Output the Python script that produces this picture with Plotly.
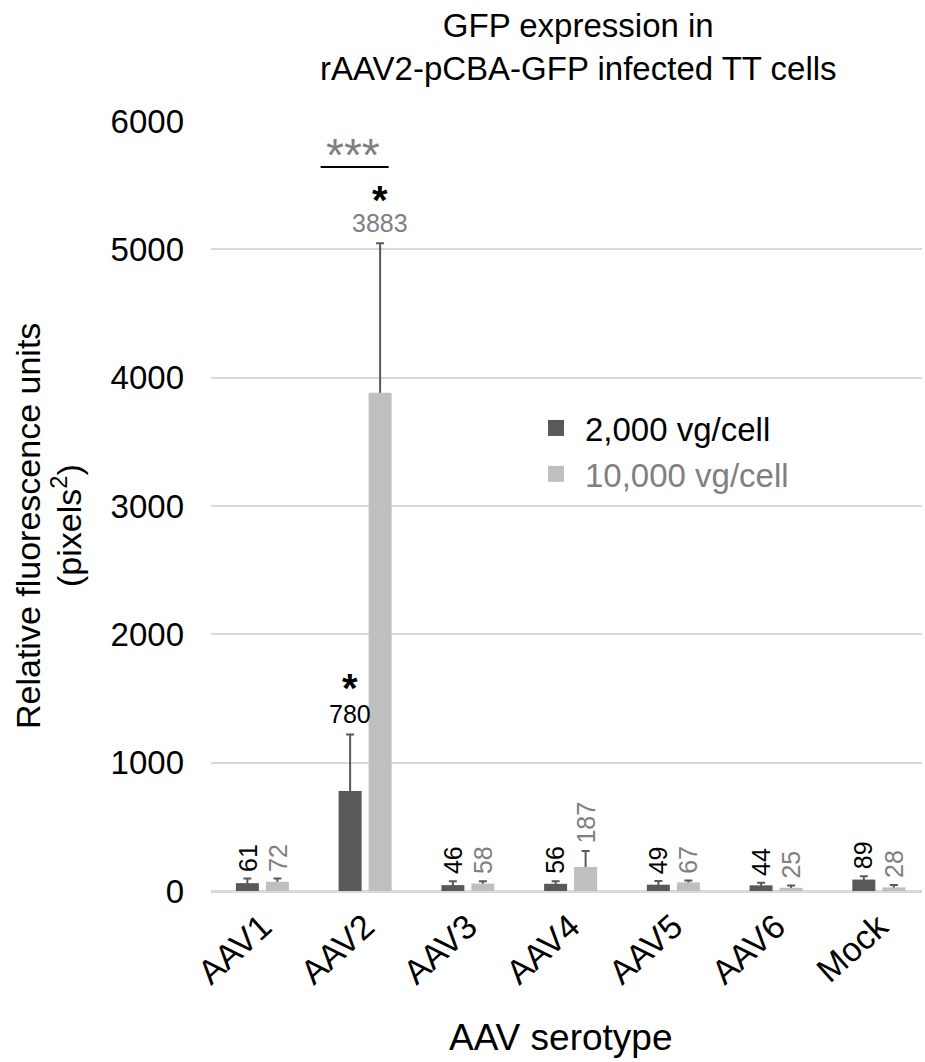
import plotly.graph_objects as go

# ---- data ----
categories = ["AAV1", "AAV2", "AAV3", "AAV4", "AAV5", "AAV6", "Mock"]
series_names = ["2,000 vg/cell", "10,000 vg/cell"]
low_dose = [61, 780, 46, 56, 49, 44, 89]
high_dose = [72, 3883, 58, 187, 67, 25, 28]
low_dose_err = [36, 440, 30, 20, 29, 20, 25]
high_dose_err = [25, 1164, 18, 125, 15, 18, 18]
y_ticks = [0, 1000, 2000, 3000, 4000, 5000, 6000]
significant_low = ["AAV2"]
significant_high = ["AAV2"]

# ---- style ----
FONT = "Liberation Sans, Arial, sans-serif"
DARK = "#595959"
LIGHT = "#BFBFBF"
TXT_DARK = "#000000"
TXT_LIGHT = "#808080"
GRID = "#D9D9D9"
BARGAP = 0.416
BARGROUPGAP = 0.233

W, H = 925, 1062
ML, MR, MT, MB = 211, 3, 121, 171
PW, PH = W - ML - MR, H - MT - MB


def px_x(p):
    return (p - ML) / PW


def px_y(p):
    return (H - MB - p) / PH


xs = list(range(len(categories)))
slot_offset = (1 - BARGAP) / 4  # centre of each bar inside a category

fig = go.Figure()

# carrier bars (transparent) hold the error bars so the lower half sits behind the real bars
for name, vals, errs, og in [(series_names[0], low_dose, low_dose_err, "a"),
                             (series_names[1], high_dose, high_dose_err, "b")]:
    fig.add_trace(go.Bar(
        x=xs, y=vals, offsetgroup=og, showlegend=False, hoverinfo="skip",
        marker=dict(color="rgba(0,0,0,0)", line=dict(width=0)),
        error_y=dict(type="data", array=errs, symmetric=True, color=DARK,
                     thickness=2, width=4),
    ))

for name, vals, color, og in [(series_names[0], low_dose, DARK, "a"),
                              (series_names[1], high_dose, LIGHT, "b")]:
    fig.add_trace(go.Bar(
        x=xs, y=vals, name=name, offsetgroup=og, showlegend=False,
        marker=dict(color=color, line=dict(width=0)),
    ))

# legend entries
for name, color, tcol in [(series_names[0], DARK, TXT_DARK),
                          (series_names[1], LIGHT, TXT_LIGHT)]:
    fig.add_trace(go.Scatter(
        x=[None], y=[None], mode="markers",
        name=f"<span style='color:{tcol}'>{name}</span>",
        marker=dict(symbol="square", size=16, color=color),
    ))

annotations = []

# value labels above each error bar
for i, cat in enumerate(categories):
    for vals, errs, sign, tcol in [(low_dose, low_dose_err, -1, TXT_DARK),
                                   (high_dose, high_dose_err, 1, TXT_LIGHT)]:
        v = vals[i]
        top = v + errs[i]
        big = v >= 500
        annotations.append(dict(
            x=i + sign * slot_offset, y=top, xref="x", yref="y",
            text=str(v), showarrow=False,
            textangle=0 if big else -90,
            yanchor="bottom", xanchor="center", yshift=4 if big else 5,
            font=dict(family=FONT, size=25, color=tcol),
        ))

# significance stars
for cat in significant_low:
    i = categories.index(cat)
    annotations.append(dict(
        x=i - slot_offset, y=low_dose[i] + low_dose_err[i], xref="x", yref="y",
        text="<b>*</b>", showarrow=False, yshift=46,
        font=dict(family=FONT, size=40, color="#000000"),
    ))
for cat in significant_high:
    i = categories.index(cat)
    annotations.append(dict(
        x=i + slot_offset, y=high_dose[i] + high_dose_err[i], xref="x", yref="y",
        text="<b>*</b>", showarrow=False, yshift=43,
        font=dict(family=FONT, size=40, color="#000000"),
    ))

# comparison bracket between AAV2 doses
i2 = categories.index("AAV2")
annotations.append(dict(
    x=i2 - 0.12, y=5735, xref="x", yref="y", text="***", showarrow=False,
    font=dict(family=FONT, size=46, color=TXT_LIGHT),
))

# titles
annotations.append(dict(
    x=px_x(578), y=px_y(47), xref="paper", yref="paper",
    text="GFP expression in<br>rAAV2-pCBA-GFP infected TT cells",
    showarrow=False, xanchor="center", yanchor="middle",
    font=dict(family=FONT, size=33, color="#000000"),
))
annotations.append(dict(
    x=px_x(28), y=px_y(526), xref="paper", yref="paper",
    text="Relative fluorescence units", textangle=-90, showarrow=False,
    xanchor="center", yanchor="middle",
    font=dict(family=FONT, size=34, color="#000000"),
))
annotations.append(dict(
    x=px_x(66), y=px_y(526), xref="paper", yref="paper",
    text="(pixels<sup>2</sup>)", textangle=-90, showarrow=False,
    xanchor="center", yanchor="middle",
    font=dict(family=FONT, size=34, color="#000000"),
))
annotations.append(dict(
    x=px_x(560), y=px_y(1037), xref="paper", yref="paper",
    text="AAV serotype", showarrow=False, xanchor="center", yanchor="middle",
    font=dict(family=FONT, size=37, color="#000000"),
))

shapes = [dict(
    type="line", xref="x", yref="y",
    x0=i2 - 0.433, x1=i2 + 0.229, y0=5642, y1=5642,
    line=dict(color="#000000", width=2),
)]

fig.update_layout(
    width=W, height=H,
    margin=dict(l=ML, r=MR, t=MT, b=MB, pad=0),
    paper_bgcolor="white", plot_bgcolor="white",
    barmode="group", bargap=BARGAP, bargroupgap=BARGROUPGAP,
    font=dict(family=FONT, color="#000000"),
    annotations=annotations, shapes=shapes,
    showlegend=True,
    legend=dict(
        x=px_x(527), y=px_y(400), xanchor="left", yanchor="top",
        font=dict(family=FONT, size=33, color="#000000"),
        itemwidth=48, bgcolor="rgba(0,0,0,0)",
    ),
    xaxis=dict(
        range=[-0.5, 6.42], tickvals=xs, ticktext=categories,
        tickangle=-42, tickfont=dict(family=FONT, size=34, color="#000000"),
        showgrid=False, zeroline=False, showline=False, ticks="",
        ticklabelstandoff=8, fixedrange=True,
    ),
    yaxis=dict(
        range=[0, 6000], tickvals=y_ticks,
        tickfont=dict(family=FONT, size=33, color="#000000"),
        showgrid=True, gridcolor=GRID, gridwidth=2,
        zeroline=True, zerolinecolor=GRID, zerolinewidth=2.5,
        showline=False, ticks="", ticklabelstandoff=26,
    ),
)

fig.write_html("out.html")
